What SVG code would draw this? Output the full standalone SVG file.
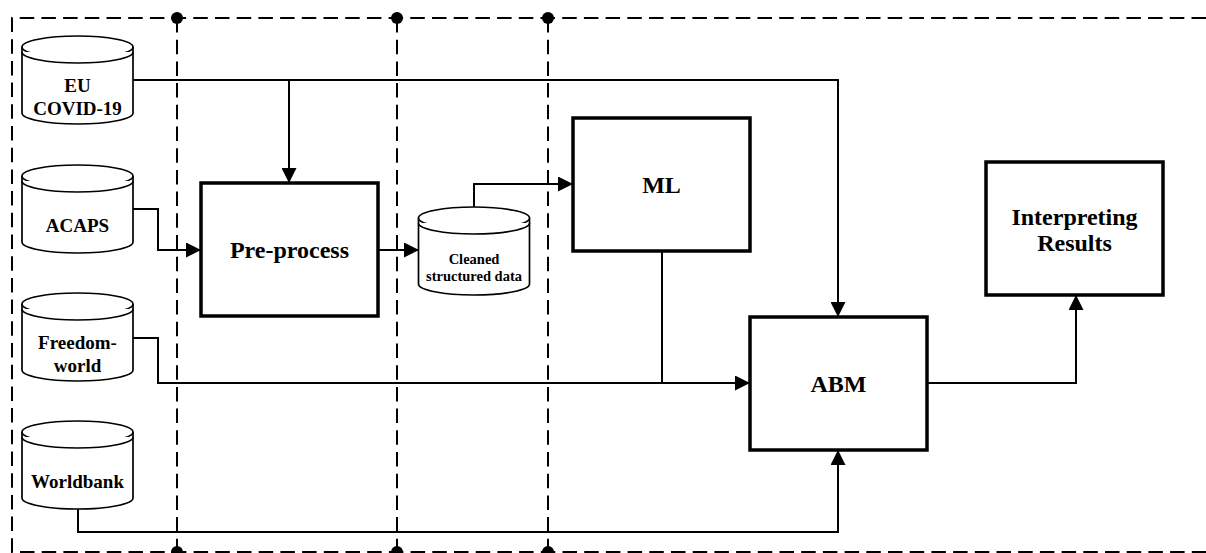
<svg xmlns="http://www.w3.org/2000/svg" xmlns:xlink="http://www.w3.org/1999/xlink" width="1206" height="553" viewBox="0 0 1206 553">
<style>
.frame{fill:none;stroke:#000;stroke-width:2;stroke-dasharray:14.5 7.2}
.dot{fill:#000}
.box{fill:#fff;stroke:#000;stroke-width:3.5}
.cyl{fill:#fff;stroke:#000;stroke-width:1.7}
.conn{fill:none;stroke:#000;stroke-width:2}
.arr{marker-end:url(#ah)}
text{font-family:"Liberation Serif","Times New Roman",serif;font-weight:bold;fill:#000;text-anchor:middle}
.big{font-size:24px}
.db{font-size:19px}
.sm{font-size:14.5px}
</style>
<defs>
<marker id="ah" markerUnits="userSpaceOnUse" markerWidth="15" markerHeight="15" refX="15" refY="7.5" orient="auto">
<path d="M0,0 L15,7.5 L0,15 z" fill="#000"/>
</marker>
<symbol id="cyl" overflow="visible">
<path class="cyl" d="M0,11 L0,77 A55.5,11 0 0 0 111,77 L111,11"/>
<ellipse class="cyl" cx="55.5" cy="11" rx="55.5" ry="11"/>
<path class="cyl" d="M0,16 A55.5,11 0 0 0 111,16"/>
</symbol>
</defs>
<rect width="1206" height="553" fill="#fff"/>
<g id="frame">
<path class="frame" d="M1206,18 H12 V552 H1206"/>
<path class="frame" d="M177,18 V552 M397,18 V552 M548,18 V552"/>
<circle class="dot" cx="177" cy="18" r="6"/>
<circle class="dot" cx="397" cy="18" r="6"/>
<circle class="dot" cx="548" cy="18" r="6"/>
<circle class="dot" cx="177" cy="552" r="6"/>
<circle class="dot" cx="397" cy="552" r="6"/>
<circle class="dot" cx="548" cy="552" r="6"/>
</g>
<g id="connectors">
<path class="conn arr" d="M133,80 H838 V317"/>
<path class="conn arr" d="M289,80 V183"/>
<path class="conn arr" d="M133,209 H158 V250 H201"/>
<path class="conn arr" d="M378,250 H419"/>
<path class="conn arr" d="M474,207 V184 H573"/>
<path class="conn arr" d="M133,338 H158 V383 H750"/>
<path class="conn" d="M662,251 V383"/>
<path class="conn arr" d="M78,509 V532 H838 V450"/>
<path class="conn arr" d="M927,383 H1076 V295"/>
</g>
<g id="eu">
<use xlink:href="#cyl" x="22" y="36"/>
<text class="db" x="77.5" y="92">EU</text>
<text class="db" x="77.5" y="115">COVID-19</text>
</g>
<g id="acaps">
<use xlink:href="#cyl" x="22" y="165"/>
<text class="db" x="77.5" y="232">ACAPS</text>
</g>
<g id="freedom">
<use xlink:href="#cyl" x="22" y="293"/>
<text class="db" x="77.5" y="349">Freedom-</text>
<text class="db" x="77.5" y="372">world</text>
</g>
<g id="worldbank">
<use xlink:href="#cyl" x="22" y="421"/>
<text class="db" x="77.5" y="488">Worldbank</text>
</g>
<g id="cleaned">
<use xlink:href="#cyl" x="418.5" y="207"/>
<text class="sm" x="474" y="264">Cleaned</text>
<text class="sm" x="474" y="281">structured data</text>
</g>
<g id="preprocess">
<rect class="box" x="201" y="183" width="177" height="133"/>
<text class="big" x="289.5" y="258">Pre-process</text>
</g>
<g id="ml">
<rect class="box" x="573" y="118" width="177" height="133"/>
<text class="big" x="661.5" y="193">ML</text>
</g>
<g id="abm">
<rect class="box" x="750" y="317" width="177" height="133"/>
<text class="big" x="838.5" y="392">ABM</text>
</g>
<g id="interpreting">
<rect class="box" x="986" y="162" width="177" height="133"/>
<text class="big" x="1074.5" y="225">Interpreting</text>
<text class="big" x="1074.5" y="251">Results</text>
</g>
</svg>
